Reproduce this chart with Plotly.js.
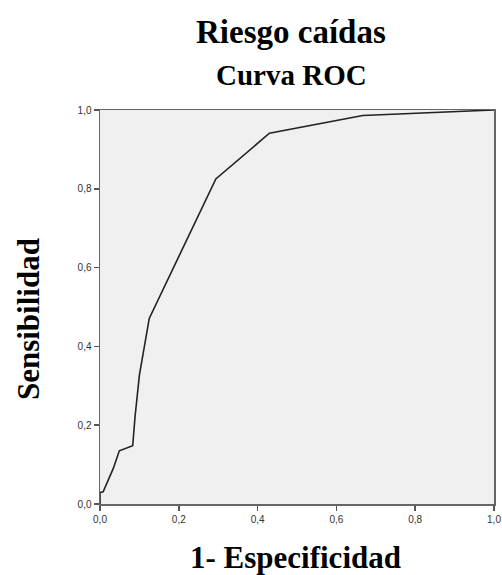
<!DOCTYPE html>
<html>
<head>
<meta charset="utf-8">
<script src="https://cdn.plot.ly/plotly-3.0.1.min.js"></script>
<style>html,body{margin:0;padding:0;background:#fff;}</style>
</head>
<body>
<div id="chart" style="width:502px;height:575px;"></div>
<script>
const fpr = [0.000, 0.000, 0.008, 0.034, 0.049, 0.083, 0.089, 0.093, 0.100, 0.125, 0.294, 0.430, 0.667, 1.000];
const tpr = [0.000, 0.029, 0.031, 0.091, 0.135, 0.148, 0.222, 0.256, 0.327, 0.471, 0.825, 0.941, 0.986, 1.000];
const tickVals = [0, 0.2, 0.4, 0.6, 0.8, 1.0];
const tickText = ["0,0", "0,2", "0,4", "0,6", "0,8", "1,0"];
const titleMain = "Riesgo caídas";
const titleSub = "Curva ROC";
const xTitle = "1- Especificidad";
const yTitle = "Sensibilidad";

const serif = "Liberation Serif, Times New Roman, serif";
const axisCommon = {
  range: [0, 1],
  tickvals: tickVals,
  ticktext: tickText,
  ticks: "outside",
  ticklen: 5,
  tickwidth: 1.5,
  tickcolor: "#555",
  showgrid: false,
  zeroline: false,
  showline: true,
  linecolor: "#666",
  linewidth: 1.5,
  mirror: true,
  tickfont: {family: "Liberation Sans, Arial, sans-serif", size: 10, color: "#333"},
  fixedrange: true
};

const trace = {
  x: fpr, y: tpr, type: "scatter", mode: "lines",
  line: {color: "#222", width: 1.6},
  hoverinfo: "skip"
};

const layout = {
  width: 502, height: 575,
  margin: {l: 100, r: 8, t: 110, b: 71},
  paper_bgcolor: "#ffffff",
  plot_bgcolor: "#f0f0f0",
  showlegend: false,
  xaxis: Object.assign({}, axisCommon, {ticklabelstandoff: 0}),
  yaxis: Object.assign({}, axisCommon),
  annotations: [
    {text: "<b>" + titleMain + "</b>", xref: "paper", yref: "paper", x: 0.485, y: 1.198,
     xanchor: "center", yanchor: "middle", showarrow: false,
     font: {family: serif, size: 33, color: "#000"}},
    {text: "<b>" + titleSub + "</b>", xref: "paper", yref: "paper", x: 0.487, y: 1.09,
     xanchor: "center", yanchor: "middle", showarrow: false,
     font: {family: serif, size: 29, color: "#000"}},
    {text: "<b>" + xTitle + "</b>", xref: "paper", yref: "paper", x: 0.497, y: -0.137,
     xanchor: "center", yanchor: "middle", showarrow: false,
     font: {family: serif, size: 31, color: "#000"}},
    {text: "<b>" + yTitle + "</b>", xref: "paper", yref: "paper", x: -0.183, y: 0.469,
     xanchor: "center", yanchor: "middle", showarrow: false, textangle: -90,
     font: {family: serif, size: 31, color: "#000"}}
  ]
};

Plotly.newPlot("chart", [trace], layout, {displayModeBar: false, staticPlot: true});
</script>
</body>
</html>
